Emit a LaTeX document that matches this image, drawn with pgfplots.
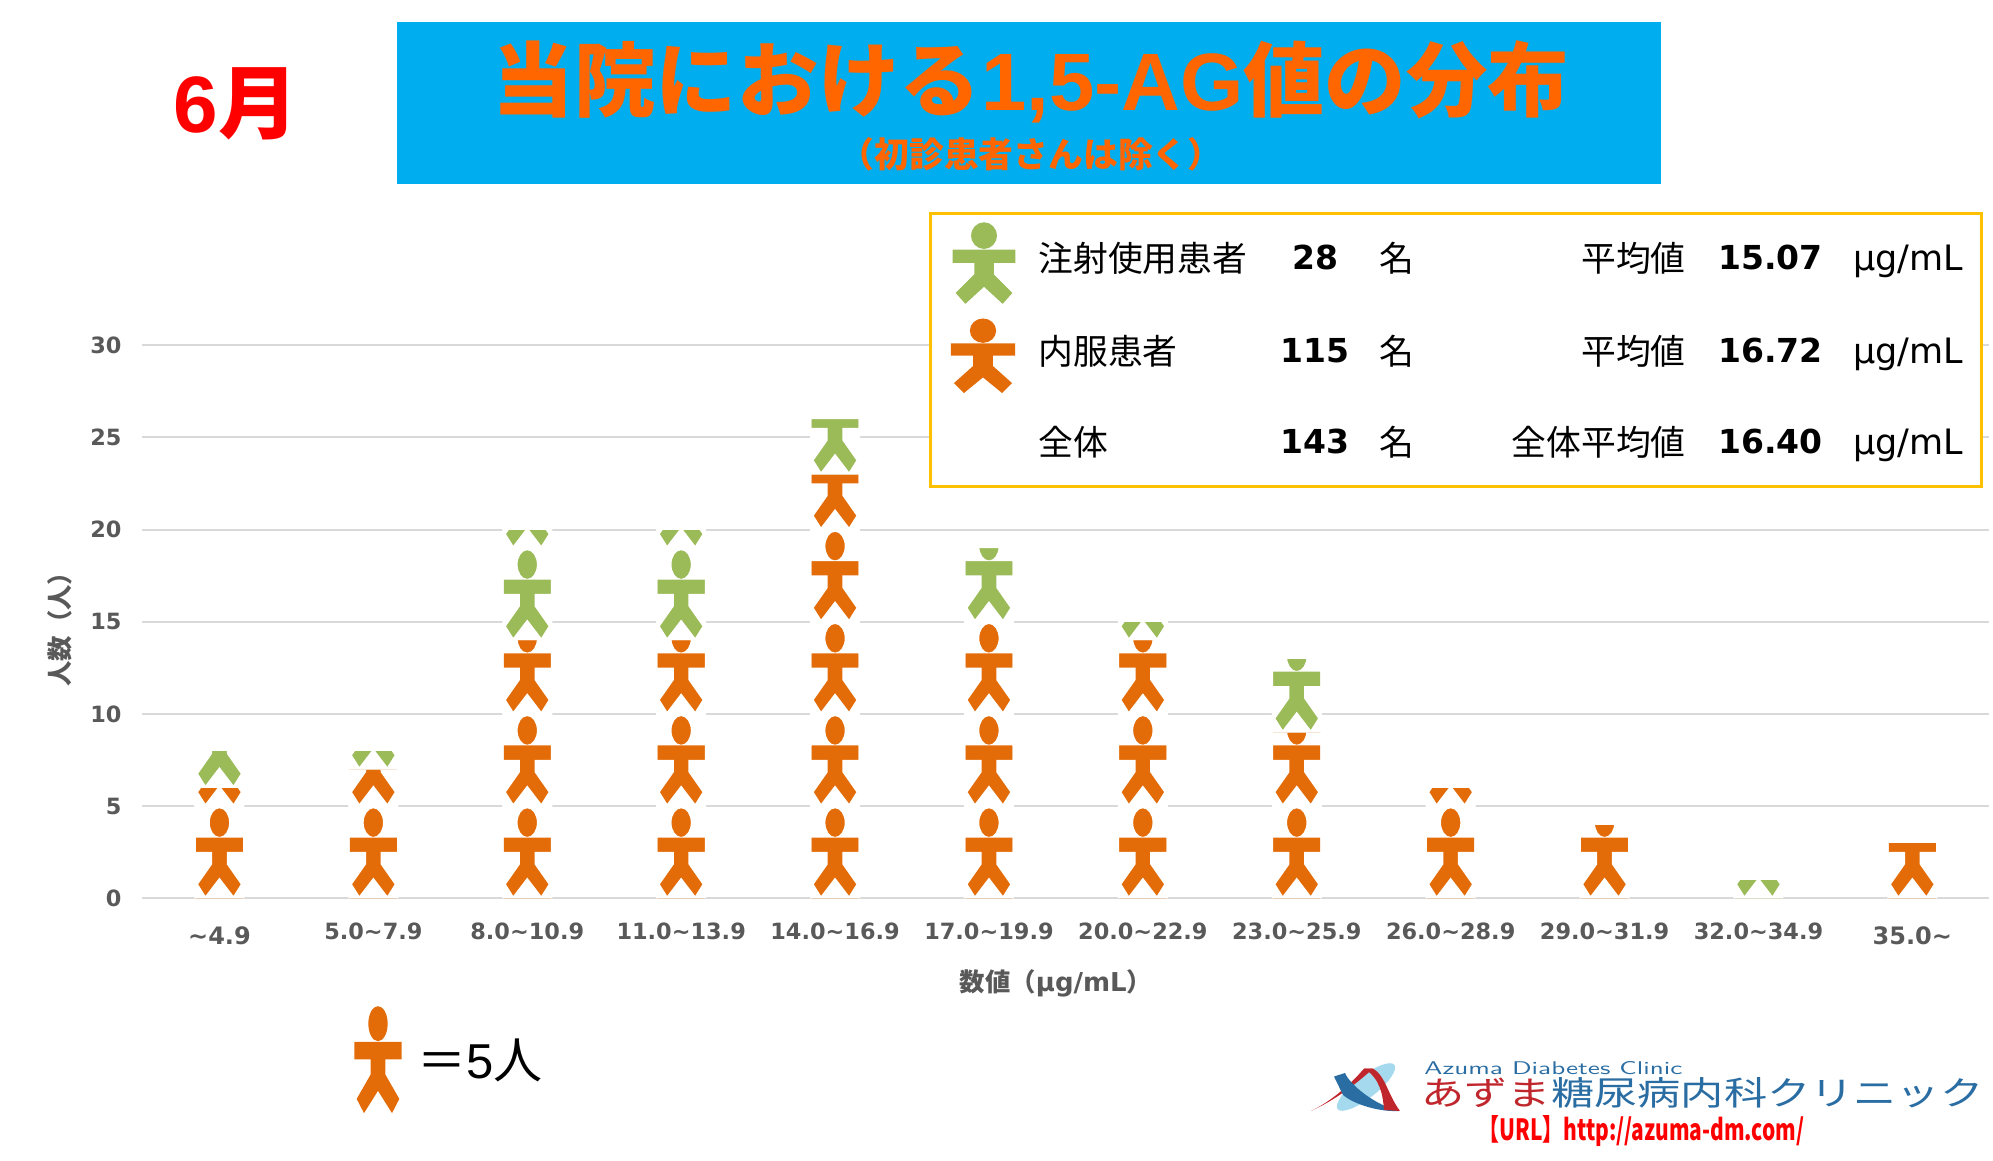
\documentclass[border=0pt]{standalone}
\usepackage{fontspec}
\usepackage{graphicx}
\usepackage{pgfplots}
\pgfplotsset{compat=1.18}
\setmainfont{DejaVu Sans}
\newfontfamily\jp{Noto Sans CJK JP}
\newfontfamily\arial{Liberation Sans}
\definecolor{cOr}{HTML}{E36C09}
\definecolor{cGr}{HTML}{9BBB59}
\definecolor{cGrid}{HTML}{D9D9D9}
\definecolor{cTxt}{HTML}{595959}
\definecolor{cTitle}{HTML}{FF6600}
\definecolor{cBox}{HTML}{00AEEF}
\definecolor{cLeg}{HTML}{FFC000}
\definecolor{cBlue}{HTML}{2A6DA3}
\definecolor{cRed}{HTML}{C0272D}
\definecolor{cLight}{HTML}{A5DAEE}
\newcommand\fs[1]{\fontsize{#1}{#1}\selectfont}
% person outline, in units of one third of a reference pixel
\newcommand\personpath{%
 (-71,182) -- (71,182) -- (71,139) -- (22,139) -- (22,102) -- (64,42) -- (42,7) -- (0,62)
 -- (-42,7) -- (-64,42) -- (-22,102) -- (-22,139) -- (-71,139) -- cycle
 (0,227) ellipse [x radius=29, y radius=43]}
% white stencil with a person-shaped hole, cut off at height #2
\newcommand\declmask[2]{%
 \pgfdeclareplotmark{#1}{%
  \pgfsetfillcolor{white}%
  \begin{pgfscope}
   \pgfpathrectanglecorners{\pgfpoint{-12.5pt}{0pt}}{\pgfpoint{12.5pt}{#2*0.16667pt}}%
   \pgfusepath{clip}%
   \path[draw=none,fill=white,even odd rule,x=0.16667pt,y=0.16667pt] (-75,0) rectangle (75,#2) \personpath;
  \end{pgfscope}
  \pgfpathrectanglecorners{\pgfpoint{-12.5pt}{#2*0.16667pt}}{\pgfpoint{12.5pt}{#2*0.16667pt+1pt}}%
  \pgfusepath{fill}}}
\declmask{pmA}{55.3}
\declmask{pmB}{110.6}
\declmask{pmC}{165.9}
\declmask{pmD}{221.2}
\declmask{pmE}{276.5}
\newcommand\person[5]{% cx, bottom y, xscale, yscale, colour (reference pixels)
 \begin{scope}[shift={(#1,#2)},x=#3*0.16667pt,y=#4*0.16667pt]
  \fill[#5] \personpath;
 \end{scope}}
\begin{document}
\begin{tikzpicture}
\path[use as bounding box] (0,0) rectangle (996.5pt,580.5pt);
\pgfplotsset{base/.style={
  scale only axis,width=923.4pt,height=276.5pt,
  at={(71.25pt,131.35pt)},anchor=south west,
  xmin=-0.5,xmax=11.5,ymin=0,ymax=30}}
\begin{axis}[base,
  ybar stacked,bar width=23.67pt,
  axis line style={draw=none},
  major tick length=0pt,
  xtick={0,...,11},
  xticklabels={{\raisebox{-1.5pt}[\height]{\fs{12}\string~4.9}},5.0\string~7.9,8.0\string~10.9,11.0\string~13.9,14.0\string~16.9,17.0\string~19.9,20.0\string~22.9,23.0\string~25.9,26.0\string~28.9,29.0\string~31.9,32.0\string~34.9,{\raisebox{-1.5pt}[\height]{\fs{12}35.0\string~}}},
  ytick={0,5,...,30},
  ymajorgrids,
  grid style={cGrid,line width=1pt},
  /pgf/number format/assume math mode=true,
  ticklabel style={font=\bfseries\fs{11.2},text=cTxt},
  xticklabel style={yshift=-9pt},
  yticklabel style={xshift=-7pt},
  xlabel={{\jp\bfseries\fs{12.7}数値（}{\bfseries\fs{13}μg/mL}{\jp\bfseries\fs{12.7}）}},
  xlabel style={at={(axis description cs:0.4946,-0.1537)},anchor=center,text=cTxt},
  ylabel={{\jp\bfseries\fs{12.7}人数（人）}},
  ylabel style={at={(axis description cs:-0.0447,0.4975)},anchor=center,text=cTxt},
]
\addplot[fill=cOr,draw=none] coordinates {(0,6)(1,7)(2,14)(3,14)(4,23)(5,15)(6,14)(7,9)(8,6)(9,4)(10,0)(11,3)};
\addplot[fill=cGr,draw=none] coordinates {(0,2)(1,1)(2,6)(3,6)(4,3)(5,4)(6,1)(7,4)(8,0)(9,0)(10,1)(11,0)};
\end{axis}
\begin{axis}[base,hide axis,clip=false]
\addplot[only marks,draw=none,mark=pmE,mark options={draw=none,fill=white}] coordinates {(0,0)(1,0)(2,0)(2,5)(3,0)(3,5)(4,0)(4,5)(4,10)(4,15)(5,0)(5,5)(5,10)(6,0)(6,5)(7,0)(8,0)(2,14)(3,14)};
\addplot[only marks,draw=none,mark=pmD,mark options={draw=none,fill=white}] coordinates {(2,10)(3,10)(6,10)(7,5)(7,9)(5,15)(9,0)};
\addplot[only marks,draw=none,mark=pmC,mark options={draw=none,fill=white}] coordinates {(4,20)(4,23)(11,0)};
\addplot[only marks,draw=none,mark=pmB,mark options={draw=none,fill=white}] coordinates {(0,6)(1,5)};
\addplot[only marks,draw=none,mark=pmA,mark options={draw=none,fill=white}] coordinates {(0,5)(1,7)(2,19)(3,19)(6,14)(8,5)(10,0)};
\end{axis}
\begin{scope}[x=0.5pt,y=-0.5pt,yshift=580.5pt]
 % title
 \fill[cBox] (397,22) rectangle (1661,184);
 \node[text=cTitle,inner sep=0pt] at (1031,82) {\jp\bfseries\fs{40.7}当院における{\arial 1,5-AG}値の分布};
 \node[text=cTitle,inner sep=0pt] at (1031,154) {\jp\bfseries\fs{17.4}（初診患者さんは除く）};
 \node[text=red,inner sep=0pt] at (236,104) {\fs{40}{\arial\bfseries 6}{\jp\bfseries 月}};
 % key
 \draw[cLeg,line width=1.5pt,fill=white] (930,213.5) rectangle (1981,487);
 \person{984}{306}{1.33}{0.93}{cGr}
 \person{983}{395}{1.36}{0.85}{cOr}
 \foreach \yy/\la/\nn/\lb/\vv in {258/注射使用患者/28/平均値/15.07,351/内服患者/115/平均値/16.72,442/全体/143/全体平均値/16.40}{
  \node[anchor=west,inner sep=0pt] at (1038,\yy) {\jp\fs{17.4}\la};
  \node[inner sep=0pt] at (1315,\yy) {\bfseries\fs{16.5}\nn};
  \node[inner sep=0pt] at (1397,\yy) {\jp\fs{17.4}名};
  \node[anchor=east,inner sep=0pt] at (1686,\yy) {\jp\fs{17.4}\lb};
  \node[anchor=west,inner sep=0pt] at (1718,\yy) {\bfseries\fs{16.5}\vv};
  \node[anchor=west,inner sep=0pt] at (1853,\yy+3) {\fs{17.5}μg/mL};
 }
 % unit note
 \person{378}{1116}{1}{1.22}{cOr}
 \node[anchor=west,inner sep=0pt] at (417,1060) {\jp\fs{24.5}＝{\arial 5}人};
 % clinic logo
 \fill[cLight,rotate around={38:(1366,1087)}] (1366,1087) ellipse [x radius=36, y radius=11];
 \fill[cRed] (1311,1111) .. controls (1335,1100) and (1355,1085) .. (1373,1068.6) -- (1364,1068.6) .. controls (1350,1085) and (1330,1102) .. cycle;
 \fill[cBlue] (1334,1076.5) -- (1345,1073) .. controls (1350,1085) and (1375,1105) .. (1399,1111) .. controls (1380,1112) and (1355,1105) .. (1343,1095) -- cycle;
 \fill[cRed] (1364,1068.6) -- (1373,1068.6) .. controls (1385,1075) and (1388,1095) .. (1400,1111) -- (1384,1110) .. controls (1383,1095) and (1380,1078) .. cycle;
 \node[anchor=west,inner sep=0pt,text=cBlue] at (1424,1068) {\resizebox{129pt}{6.5pt}{\textsf{Azuma Diabetes Clinic}}};
 \node[anchor=west,inner sep=0pt] at (1421,1093) {\resizebox{281pt}{14pt}{\jp{\color{cRed}あずま}{\color{cBlue}糖尿病内科クリニック}}};
 \node[anchor=west,inner sep=0pt,text=red] at (1478,1131) {\resizebox{163pt}{12.5pt}{\jp\bfseries 【URL】http://azuma-dm.com/}};
\end{scope}
\end{tikzpicture}
\end{document}
